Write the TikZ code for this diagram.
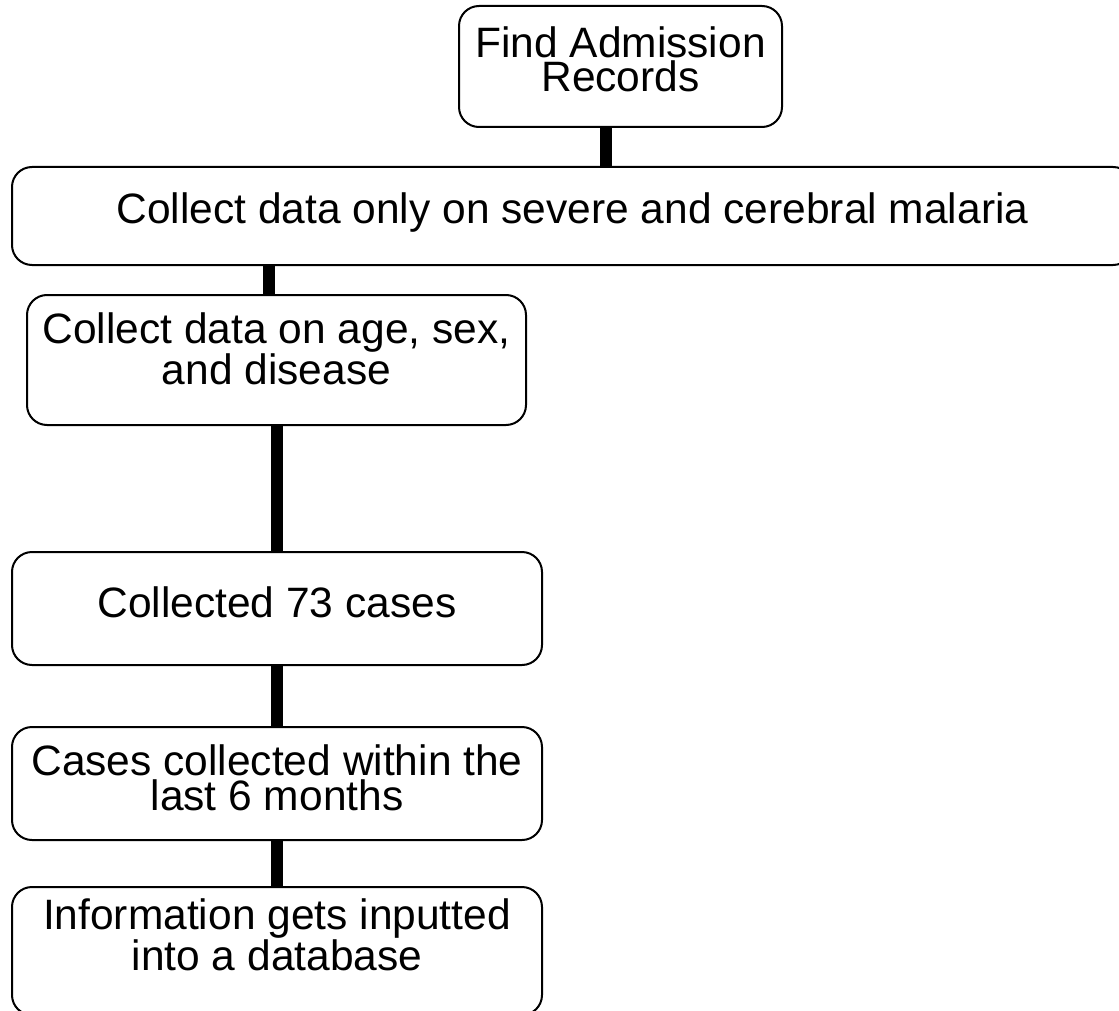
\documentclass[tikz,border=0pt]{standalone}
\usepackage{fontspec}
\setmainfont{Liberation Sans}
\begin{document}
\begin{tikzpicture}[x=1pt,y=-1pt,
  box/.style={draw, line width=2pt, rounded corners=20pt, fill=white, inner sep=0pt, rectangle},
  lbl/.style={font=\fontsize{42.5}{34.5}\selectfont, align=center, anchor=base, inner sep=0pt},
  conn/.style={line width=12pt}]
\path[use as bounding box] (0,0) rectangle (1119,1011);
\clip (0,0) rectangle (1119,1011);
% boxes
\node[box, minimum width=323pt, minimum height=121pt] (b1) at (620.5,66.5) {};
\node[box, minimum width=1121pt, minimum height=98pt] (b2) at (572.5,216) {};
\node[box, minimum width=499pt, minimum height=130pt] (b3) at (276.5,360) {};
\node[box, minimum width=530pt, minimum height=113pt] (b4) at (277,608.5) {};
\node[box, minimum width=530pt, minimum height=113pt] (b5) at (277,783.5) {};
\node[box, minimum width=530pt, minimum height=128pt] (b6) at (277,951) {};
% texts (anchor base = baseline of the last line)
\node[lbl] (t1) at (620.5,92) {Find Admission\\Records};
\node[lbl] (t2) at (572.5,224) {Collect data only on severe and cerebral malaria};
\node[lbl] (t3) at (276.5,384) {Collect data on age, sex,\\and disease};
\node[lbl] (t4) at (277,617) {Collected 73 cases};
\node[lbl] (t5) at (277,810) {Cases collected within the\\last 6 months};
\node[lbl] (t6) at (277,970) {Information gets inputted\\into a database};
% connectors
\draw[conn] ([xshift=-15pt]b1.south) -- ([xshift=-15pt]b1.south |- b2.north);
\draw[conn] ([xshift=-7.5pt]b3.north |- b2.south) -- ([xshift=-7.5pt]b3.north);
\draw[conn] (b3.south) -- (b3.south |- b4.north);
\draw[conn] (b4.south) -- (b5.north);
\draw[conn] (b5.south) -- (b6.north);
\end{tikzpicture}
\end{document}
